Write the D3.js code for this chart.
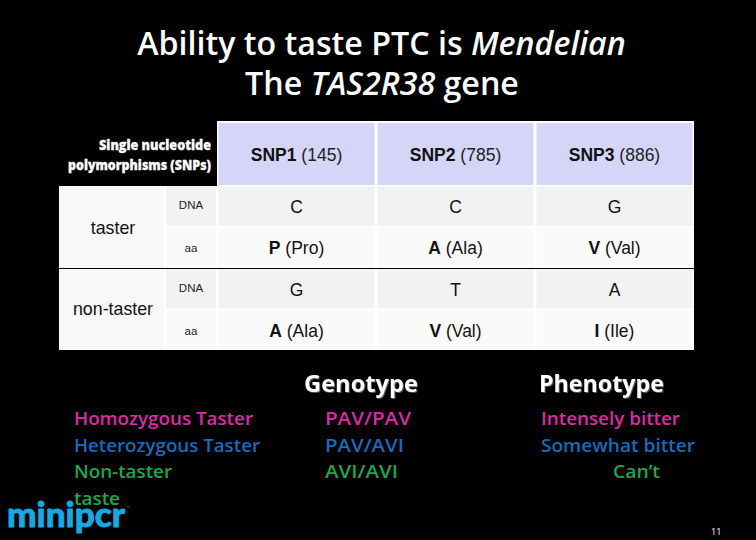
<!DOCTYPE html>
<html><head><meta charset="utf-8">
<script src="https://cdn.jsdelivr.net/npm/d3@7"></script>
<style>html,body{margin:0;padding:0;background:#000;overflow:hidden}svg{display:block}</style>
</head><body><svg id="c" width="756" height="540"></svg>
<script>
const snpNames=["SNP1","SNP2","SNP3"];
const snpPositions=["(145)","(785)","(886)"];
const rowKinds=["DNA","aa","DNA","aa"];
const rowGroups=["taster","non-taster"];
const snp1Cells=[["C",""],["P","(Pro)"],["G",""],["A","(Ala)"]];
const snp2Cells=[["C",""],["A","(Ala)"],["T",""],["V","(Val)"]];
const snp3Cells=[["G",""],["V","(Val)"],["A",""],["I","(Ile)"]];
const legendLabels=["Homozygous Taster","Heterozygous Taster","Non-taster","taste"];
const genotypes=["PAV/PAV","PAV/AVI","AVI/AVI"];
const phenotypes=["Intensely bitter","Somewhat bitter","Can’t"];
const pink="#d92ea3",blue="#1f6ab8",green="#1fa652";
const toneColors=[pink,blue,green,green];

const svg=d3.select("#c");
const sans="'Liberation Sans',Arial,sans-serif", cal="'Open Sans','Noto Sans',sans-serif";
svg.append("rect").attr("width",756).attr("height",540).attr("fill","#000");

function txt(x,y,s,o={}){
  const t=svg.append("text").attr("x",x).attr("y",y).text(s)
   .attr("font-family",o.f||cal).attr("font-size",o.s||16).attr("fill",o.c||"#fff")
   .attr("font-weight",o.w||"normal").attr("text-anchor",o.a||"start");
  if(o.ls)t.attr("textLength",o.ls).attr("lengthAdjust","spacingAndGlyphs");
  return t;
}
// title
const t1=txt(381.5,55,"Ability to taste PTC is ",{s:32.2,w:600,a:"middle"});
t1.append("tspan").attr("font-style","italic").text("Mendelian");
const t2=txt(382,95,"The ",{s:32.2,w:600,a:"middle"});
t2.append("tspan").attr("font-style","italic").text("TAS2R38");
t2.append("tspan").text(" gene");

// table scales
const xSnp=d3.scaleBand().domain(d3.range(3)).range([217.5,693.5]).paddingInner(0.006);
const yRow=d3.scaleBand().domain(d3.range(4)).range([186.5,349.5]).paddingInner(0.04);
const evenFill="#f2f2f2", oddFill="#fafafa";

// white table backing
svg.append("rect").attr("x",59).attr("y",186).attr("width",635).attr("height",164).attr("fill","#fff");
svg.append("rect").attr("x",217).attr("y",121).attr("width",477).attr("height",66).attr("fill","#fff");

// header cells
svg.selectAll("rect.h").data(snpNames).join("rect").attr("class","h")
 .attr("x",(d,i)=>xSnp(i)+1).attr("y",123).attr("width",xSnp.bandwidth()-2).attr("height",62).attr("fill","#d5d5f9");
snpNames.forEach((n,i)=>{
  const t=txt(xSnp(i)+xSnp.bandwidth()/2,161,n,{f:sans,s:17.5,w:"bold",c:"#111",a:"middle"});
  t.append("tspan").attr("font-weight","normal").attr("fill","#222").text(" "+snpPositions[i]);
});
txt(211,150,"Single nucleotide",{s:13.5,w:800,a:"end",ls:112}).attr("stroke","#fff").attr("stroke-width",0.3);
txt(211,170,"polymorphisms (SNPs)",{s:13.5,w:800,a:"end",ls:143}).attr("stroke","#fff").attr("stroke-width",0.3);

// group cells
svg.append("rect").attr("x",60).attr("y",187).attr("width",104).attr("height",81).attr("fill","#f8f8f8");
svg.append("rect").attr("x",60).attr("y",270).attr("width",104).attr("height",79).attr("fill","#f8f8f8");
rowGroups.forEach((g,i)=>txt(113,[234,315][i],g,{f:sans,s:17.8,c:"#111",a:"middle"}));

// body rows
rowKinds.forEach((k,r)=>{
  const fill=r%2?oddFill:evenFill, y=yRow(r), h=yRow.bandwidth();
  svg.append("rect").attr("x",166).attr("y",y).attr("width",50).attr("height",h).attr("fill",fill);
  txt(191,y+h/2+(r%2?5:3),k,{f:sans,s:11.5,c:"#222",a:"middle"});
  [snp1Cells,snp2Cells,snp3Cells].forEach((col,c)=>{
    svg.append("rect").attr("x",xSnp(c)+1).attr("y",y).attr("width",xSnp.bandwidth()-2).attr("height",h).attr("fill",fill);
    const t=txt(xSnp(c)+xSnp.bandwidth()/2,y+h/2+7,col[r][0],{f:sans,s:17.5,c:"#111",a:"middle",w:col[r][1]?"bold":"normal"});
    if(col[r][1])t.append("tspan").attr("font-weight","normal").text(" "+col[r][1]);
  });
});
// separator
svg.append("line").attr("x1",59).attr("x2",694).attr("y1",268.5).attr("y2",268.5).attr("stroke","#000").attr("stroke-width",1);

// lower text
txt(304,392,"Genotype",{s:23,w:700,ls:114}).style("filter","drop-shadow(1px 1px 0 #555)");
txt(539,392,"Phenotype",{s:23,w:700,ls:125}).style("filter","drop-shadow(1px 1px 0 #555)");
const yLine=d3.scalePoint().domain(d3.range(4)).range([425,505]);
const widths=[179,186,98,46];
legendLabels.forEach((s,i)=>txt(74,yLine(i),s,{s:18.5,w:600,c:toneColors[i],ls:widths[i]}));
const gw=[86,79,73];
genotypes.forEach((s,i)=>txt(325,yLine(i),s,{s:18.5,w:600,c:toneColors[i],ls:gw[i]}));
const px=[541,541,613],pw=[139,154,47];
phenotypes.forEach((s,i)=>txt(px[i],yLine(i),s,{s:18.5,w:600,c:toneColors[i],ls:pw[i]}));

// logo & page number
txt(7,527,"minipcr",{f:"Lato,sans-serif",s:34,w:900,c:"#19a8e0",ls:118}).attr("stroke","#19a8e0").attr("stroke-width",0.8).attr("stroke-linejoin","round");
txt(127,509,"™",{s:4,c:"#777"});
txt(711,535,"11",{s:9});
</script></body></html>
